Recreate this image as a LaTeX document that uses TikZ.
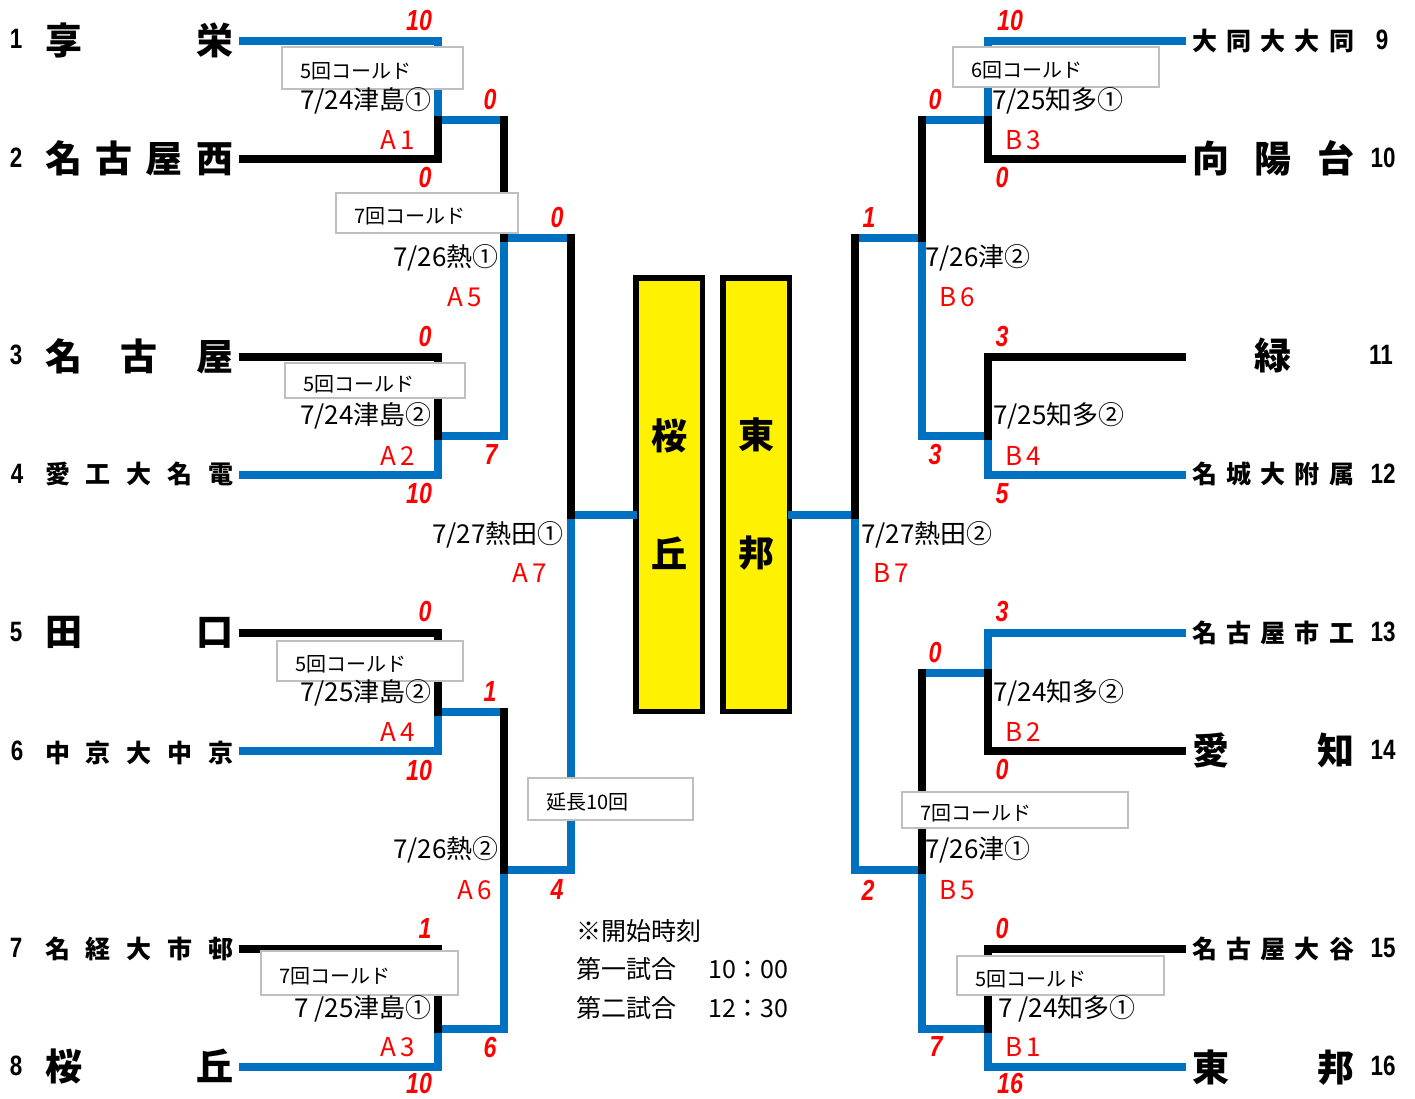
\documentclass[tikz,border=0pt]{standalone}
\usepackage{fontspec}
\setmainfont{Noto Sans CJK JP}
\newfontfamily\scorefont{Liberation Sans}[FakeStretch=0.8]
\definecolor{winblue}{RGB}{0,112,192}
\definecolor{notegray}{RGB}{191,191,191}
\newcommand\lteam[1]{\makebox[188pt]{#1}}
\newcommand\rteam[1]{\makebox[162pt]{#1}}

\begin{document}
\begin{tikzpicture}[x=1pt,y=-1pt,
  win/.style={draw=winblue,line width=8pt,line cap=rect},
  lose/.style={draw=black,line width=8pt,line cap=rect},
  team/.style={anchor=west,inner sep=0pt,font=\bfseries\fontsize{37}{37}\selectfont},
  teamsm/.style={anchor=west,inner sep=0pt,font=\bfseries\fontsize{25}{25}\selectfont},
  seed/.style={inner sep=0pt,font=\scorefont\bfseries\fontsize{28}{28}\selectfont},
  score/.style={inner sep=0pt,text=red,font=\scorefont\bfseries\itshape\fontsize{29}{29}\selectfont},
  dateL/.style={anchor=east,inner sep=0pt,font=\fontsize{26}{26}\selectfont},
  dateR/.style={anchor=west,inner sep=0pt,font=\fontsize{26}{26}\selectfont},
  game/.style={inner sep=0pt,text=red,font=\fontsize{26}{26}\selectfont},
  memo/.style={anchor=west,inner sep=0pt,font=\fontsize{25}{25}\selectfont},
  note/.style 2 args={draw=notegray,line width=1.5pt,fill=white,anchor=north west,
    inner xsep=19pt,inner ysep=0pt,text width=#1,minimum height=#2,align=left,
    text height=22pt,text depth=0pt,font=\fontsize{20}{20}\selectfont},
  final/.style={draw,line width=5.5pt,fill=yellow,minimum width=66.5pt,
    minimum height=433.5pt,align=center,font=\bfseries\fontsize{36}{118}\selectfont}]
\useasboundingbox (0,0) rectangle (1415,1098);

\coordinate(L1) at (243,41);
\coordinate(L2) at (243,159);
\coordinate(L3) at (243,357);
\coordinate(L4) at (243,474.5);
\coordinate(L5) at (243,633);
\coordinate(L6) at (243,751);
\coordinate(L7) at (243,949);
\coordinate(L8) at (243,1067);
\coordinate(R9) at (1182,41);
\coordinate(R10) at (1182,159);
\coordinate(R11) at (1182,357);
\coordinate(R12) at (1182,474.5);
\coordinate(R13) at (1182,633);
\coordinate(R14) at (1182,751);
\coordinate(R15) at (1182,949);
\coordinate(R16) at (1182,1067);
\coordinate(A1) at (438,120);
\coordinate(A2) at (438,435.5);
\coordinate(A4) at (438,711.5);
\coordinate(A3) at (438,1028.5);
\coordinate(A5) at (503.5,238);
\coordinate(A6) at (503.5,870);
\coordinate(A7) at (570.5,515);
\coordinate(B3) at (987.5,120);
\coordinate(B4) at (987.5,435.5);
\coordinate(B2) at (987.5,672.5);
\coordinate(B1) at (987.5,1028.5);
\coordinate(B6) at (921.5,238);
\coordinate(B5) at (921.5,870);
\coordinate(B7) at (854.5,515);

\node(sakura) at (669,494.5)[final] {桜\\丘};
\node(toho) at (756,494.5)[final] {東\\邦};

\draw[win] (L1) -| (A1) -- (A5 |- A1);
\draw[win] (L4) -| (A2) -| (A5) -- (A7 |- A5);
\draw[win] (L6) -| (A4) -- (A6 |- A4);
\draw[win] (L8) -| (A3) -| (A6) -| (A7) -- (A7 -| sakura.west);
\draw[win] (R9) -| (B3) -- (B6 |- B3);
\draw[win] (R12) -| (B4) -| (B6) -- (B7 |- B6);
\draw[win] (R13) -| (B2) -- (B5 |- B2);
\draw[win] (R16) -| (B1) -| (B5) -| (B7) -- (B7 -| toho.east);
\draw[lose] (L2) -| (A1);
\draw[lose] (L3) -| (A2);
\draw[lose] (L5) -| (A4);
\draw[lose] (L7) -| (A3);
\draw[lose] (A5 |- A1) -- (A5);
\draw[lose] (A6 |- A4) -- (A6);
\draw[lose] (A7 |- A5) -- (A7);
\draw[lose] (R10) -| (B3);
\draw[lose] (R11) -| (B4);
\draw[lose] (R14) -| (B2);
\draw[lose] (R15) -| (B1);
\draw[lose] (B6 |- B3) -- (B6);
\draw[lose] (B5 |- B2) -- (B5);
\draw[lose] (B7 |- B6) -- (B7);

\node(c1) at (281,46)[note={143pt}{42}] {5回コールド};
\node(c2) at (335,192)[note={144pt}{40}] {7回コールド};
\node(c3) at (284,362)[note={142pt}{35}] {5回コールド};
\node(c4) at (276,640)[note={148pt}{40}] {5回コールド};
\node(c5) at (260,950)[note={159pt}{44}] {7回コールド};
\node(c6) at (527,777)[note={127pt}{42}] {延長10回};
\node(c7) at (952,46)[note={168pt}{40}] {6回コールド};
\node(c8) at (901,791)[note={188pt}{36}] {7回コールド};
\node(c9) at (956,955)[note={169pt}{39}] {5回コールド};

\node(t1) at (45,40)[team] {\lteam{享\hfill 栄}};
\node(t2) at (45,158.5)[team] {\lteam{名\hfill 古\hfill 屋\hfill 西}};
\node(t3) at (45,356)[team] {\lteam{名\hfill 古\hfill 屋}};
\node(t4) at (45,474)[teamsm] {\lteam{愛\hfill 工\hfill 大\hfill 名\hfill 電}};
\node(t5) at (45,632.5)[team] {\lteam{田\hfill 口}};
\node(t6) at (45,752.5)[teamsm] {\lteam{中\hfill 京\hfill 大\hfill 中\hfill 京}};
\node(t7) at (45,948.5)[teamsm] {\lteam{名\hfill 経\hfill 大\hfill 市\hfill 邨}};
\node(t8) at (45,1066.5)[team] {\lteam{桜\hfill 丘}};
\node(t9) at (1192,41)[teamsm] {\rteam{大\hfill 同\hfill 大\hfill 大\hfill 同}};
\node(t10) at (1192,158.5)[team] {\rteam{向\hfill 陽\hfill 台}};
\node(t11) at (1192,355.5)[team] {\rteam{\hfill 緑\hfill}};
\node(t12) at (1192,474)[teamsm] {\rteam{名\hfill 城\hfill 大\hfill 附\hfill 属}};
\node(t13) at (1192,632.5)[teamsm] {\rteam{名\hfill 古\hfill 屋\hfill 市\hfill 工}};
\node(t14) at (1192,750)[team] {\rteam{愛\hfill 知}};
\node(t15) at (1192,948.5)[teamsm] {\rteam{名\hfill 古\hfill 屋\hfill 大\hfill 谷}};
\node(t16) at (1192,1067.5)[team] {\rteam{東\hfill 邦}};

\node(n1) at (16,39)[seed] {1};
\node(n2) at (16,158)[seed] {2};
\node(n3) at (16,355)[seed] {3};
\node(n4) at (17,474)[seed] {4};
\node(n5) at (16,632)[seed] {5};
\node(n6) at (17,751)[seed] {6};
\node(n7) at (16,948)[seed] {7};
\node(n8) at (16,1066)[seed] {8};
\node(n9) at (1382,40)[seed] {9};
\node(n10) at (1383,158)[seed] {10};
\node(n11) at (1381,355)[seed] {11};
\node(n12) at (1383,474)[seed] {12};
\node(n13) at (1383,632)[seed] {13};
\node(n14) at (1383,750)[seed] {14};
\node(n15) at (1383,948)[seed] {15};
\node(n16) at (1383,1066)[seed] {16};

\node(sA1u) at (419,20.5)[score] {10};
\node(sA1d) at (425,178)[score] {0};
\node(sA2u) at (425,337)[score] {0};
\node(sA2d) at (419,494)[score] {10};
\node(sA4u) at (425,612)[score] {0};
\node(sA4d) at (419,771)[score] {10};
\node(sA3u) at (425,929)[score] {1};
\node(sA3d) at (419,1083)[score] {10};
\node(sA5u) at (490,100)[score] {0};
\node(sA5d) at (491,455)[score] {7};
\node(sA6u) at (490,692)[score] {1};
\node(sA6d) at (490,1047)[score] {6};
\node(sA7u) at (557,218)[score] {0};
\node(sA7d) at (557,890)[score] {4};
\node(sB3u) at (1010,20.5)[score] {10};
\node(sB3d) at (1002,178)[score] {0};
\node(sB4u) at (1002,337)[score] {3};
\node(sB4d) at (1002,494)[score] {5};
\node(sB2u) at (1002,612)[score] {3};
\node(sB2d) at (1002,770)[score] {0};
\node(sB1u) at (1002,929)[score] {0};
\node(sB1d) at (1010,1083)[score] {16};
\node(sB6u) at (935,100)[score] {0};
\node(sB6d) at (935,455)[score] {3};
\node(sB5u) at (935,653)[score] {0};
\node(sB5d) at (936,1047)[score] {7};
\node(sB7u) at (869,218)[score] {1};
\node(sB7d) at (868,890)[score] {2};

\node(gA1) at (398,140)[game] {A\,1};
\node(gA2) at (398,456)[game] {A\,2};
\node(gA4) at (398,732)[game] {A\,4};
\node(gA3) at (398,1047)[game] {A\,3};
\node(gA5) at (465,297)[game] {A\,5};
\node(gA6) at (475,890)[game] {A\,6};
\node(gA7) at (530,573)[game] {A\,7};
\node(gB3) at (1023,140)[game] {B\,3};
\node(gB4) at (1023,456)[game] {B\,4};
\node(gB2) at (1023,732)[game] {B\,2};
\node(gB1) at (1023,1047)[game] {B\,1};
\node(gB6) at (957,297)[game] {B\,6};
\node(gB5) at (957,890)[game] {B\,5};
\node(gB7) at (891,573)[game] {B\,7};

\node(dA1) at (432,101)[dateL] {7/24津島①};
\node(dA2) at (432,416)[dateL] {7/24津島②};
\node(dA4) at (432,693)[dateL] {7/25津島②};
\node(dA3) at (432,1009)[dateL] {7 /25津島①};
\node(dA5) at (499,258)[dateL] {7/26熱①};
\node(dA6) at (499,850)[dateL] {7/26熱②};
\node(dA7) at (564,535)[dateL] {7/27熱田①};
\node(dB3) at (992,101)[dateR] {7/25知多①};
\node(dB4) at (993,416)[dateR] {7/25知多②};
\node(dB2) at (993,693)[dateR] {7/24知多②};
\node(dB1) at (998,1009)[dateR] {7 /24知多①};
\node(dB6) at (925,258)[dateR] {7/26津②};
\node(dB5) at (925,850)[dateR] {7/26津①};
\node(dB7) at (861,535)[dateR] {7/27熱田②};

\node(m1) at (576,931)[memo] {※開始時刻};
\node(m2) at (576,969)[memo] {第一試合　\hspace{7pt}10：00};
\node(m3) at (576,1008)[memo] {第二試合　\hspace{7pt}12：30};
\end{tikzpicture}
\end{document}
